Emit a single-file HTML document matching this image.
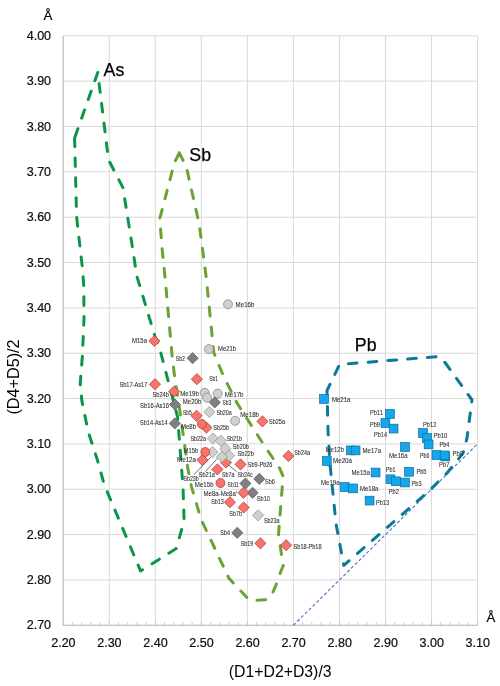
<!DOCTYPE html>
<html><head><meta charset="utf-8"><title>chart</title>
<style>html,body{margin:0;padding:0;background:#fff}body{width:500px;height:686px;overflow:hidden}</style></head>
<body>
<svg width="500" height="686" viewBox="0 0 500 686" style="display:block">
<rect width="500" height="686" fill="#fff"/>
<path d="M63.20 35.8V625.3M109.24 35.8V625.3M155.29 35.8V625.3M201.33 35.8V625.3M247.38 35.8V625.3M293.42 35.8V625.3M339.47 35.8V625.3M385.51 35.8V625.3M431.56 35.8V625.3M477.60 35.8V625.3M63.2 35.80H477.6M63.2 81.15H477.6M63.2 126.49H477.6M63.2 171.84H477.6M63.2 217.18H477.6M63.2 262.53H477.6M63.2 307.88H477.6M63.2 353.22H477.6M63.2 398.57H477.6M63.2 443.92H477.6M63.2 489.26H477.6M63.2 534.61H477.6M63.2 579.95H477.6M63.2 625.30H477.6" stroke="#d9d9d9" stroke-width="1" fill="none"/>
<path d="M63.2 35.8V625.3H477.6" stroke="#bfbfbf" stroke-width="1" fill="none"/>
<path d="M63.20 625.3v-3.2M72.41 625.3v-3.2M81.62 625.3v-3.2M90.83 625.3v-3.2M100.04 625.3v-3.2M109.24 625.3v-3.2M118.45 625.3v-3.2M127.66 625.3v-3.2M136.87 625.3v-3.2M146.08 625.3v-3.2M155.29 625.3v-3.2M164.50 625.3v-3.2M173.71 625.3v-3.2M182.92 625.3v-3.2M192.12 625.3v-3.2M201.33 625.3v-3.2M210.54 625.3v-3.2M219.75 625.3v-3.2M228.96 625.3v-3.2M238.17 625.3v-3.2M247.38 625.3v-3.2M256.59 625.3v-3.2M265.80 625.3v-3.2M275.00 625.3v-3.2M284.21 625.3v-3.2M293.42 625.3v-3.2M302.63 625.3v-3.2M311.84 625.3v-3.2M321.05 625.3v-3.2M330.26 625.3v-3.2M339.47 625.3v-3.2M348.68 625.3v-3.2M357.88 625.3v-3.2M367.09 625.3v-3.2M376.30 625.3v-3.2M385.51 625.3v-3.2M394.72 625.3v-3.2M403.93 625.3v-3.2M413.14 625.3v-3.2M422.35 625.3v-3.2M431.56 625.3v-3.2M440.76 625.3v-3.2M449.97 625.3v-3.2M459.18 625.3v-3.2M468.39 625.3v-3.2M477.60 625.3v-3.2" stroke="#bfbfbf" stroke-width="0.8" fill="none"/>
<path d="M293.4 625.3L477.6 443.9" stroke="#4472c4" stroke-width="1.1" stroke-dasharray="3.2 2.2" fill="none"/>
<g font-family="'Liberation Sans', Arial, sans-serif" font-size="12" fill="#0d0d0d" stroke="#0d0d0d" stroke-width="0.2">
<text x="51.1" y="39.9" text-anchor="end" textLength="24.4" lengthAdjust="spacingAndGlyphs">4.00</text>
<text x="51.1" y="85.2" text-anchor="end" textLength="24.4" lengthAdjust="spacingAndGlyphs">3.90</text>
<text x="51.1" y="130.6" text-anchor="end" textLength="24.4" lengthAdjust="spacingAndGlyphs">3.80</text>
<text x="51.1" y="175.9" text-anchor="end" textLength="24.4" lengthAdjust="spacingAndGlyphs">3.70</text>
<text x="51.1" y="221.3" text-anchor="end" textLength="24.4" lengthAdjust="spacingAndGlyphs">3.60</text>
<text x="51.1" y="266.6" text-anchor="end" textLength="24.4" lengthAdjust="spacingAndGlyphs">3.50</text>
<text x="51.1" y="312.0" text-anchor="end" textLength="24.4" lengthAdjust="spacingAndGlyphs">3.40</text>
<text x="51.1" y="357.3" text-anchor="end" textLength="24.4" lengthAdjust="spacingAndGlyphs">3.30</text>
<text x="51.1" y="402.7" text-anchor="end" textLength="24.4" lengthAdjust="spacingAndGlyphs">3.20</text>
<text x="51.1" y="448.0" text-anchor="end" textLength="24.4" lengthAdjust="spacingAndGlyphs">3.10</text>
<text x="51.1" y="493.4" text-anchor="end" textLength="24.4" lengthAdjust="spacingAndGlyphs">3.00</text>
<text x="51.1" y="538.7" text-anchor="end" textLength="24.4" lengthAdjust="spacingAndGlyphs">2.90</text>
<text x="51.1" y="584.1" text-anchor="end" textLength="24.4" lengthAdjust="spacingAndGlyphs">2.80</text>
<text x="51.1" y="629.4" text-anchor="end" textLength="24.4" lengthAdjust="spacingAndGlyphs">2.70</text>
<text x="63.4" y="646.8" text-anchor="middle" textLength="24.4" lengthAdjust="spacingAndGlyphs">2.20</text>
<text x="109.4" y="646.8" text-anchor="middle" textLength="24.4" lengthAdjust="spacingAndGlyphs">2.30</text>
<text x="155.5" y="646.8" text-anchor="middle" textLength="24.4" lengthAdjust="spacingAndGlyphs">2.40</text>
<text x="201.5" y="646.8" text-anchor="middle" textLength="24.4" lengthAdjust="spacingAndGlyphs">2.50</text>
<text x="247.6" y="646.8" text-anchor="middle" textLength="24.4" lengthAdjust="spacingAndGlyphs">2.60</text>
<text x="293.6" y="646.8" text-anchor="middle" textLength="24.4" lengthAdjust="spacingAndGlyphs">2.70</text>
<text x="339.7" y="646.8" text-anchor="middle" textLength="24.4" lengthAdjust="spacingAndGlyphs">2.80</text>
<text x="385.7" y="646.8" text-anchor="middle" textLength="24.4" lengthAdjust="spacingAndGlyphs">2.90</text>
<text x="431.8" y="646.8" text-anchor="middle" textLength="24.4" lengthAdjust="spacingAndGlyphs">3.00</text>
<text x="477.8" y="646.8" text-anchor="middle" textLength="24.4" lengthAdjust="spacingAndGlyphs">3.10</text>
</g>
<g font-family="'Liberation Sans', Arial, sans-serif" fill="#000">
<text x="48" y="20.3" font-size="13.4" text-anchor="middle" stroke="#000" stroke-width="0.2">Å</text>
<text x="490.9" y="621.9" font-size="13.2" text-anchor="middle" stroke="#000" stroke-width="0.2">Å</text>
<text x="280.2" y="677.4" font-size="15.8" text-anchor="middle">(D1+D2+D3)/3</text>
<text transform="translate(19.0 377) rotate(-90)" font-size="16.2" text-anchor="middle">(D4+D5)/2</text>
<text x="103.6" y="75.9" font-size="17.8" stroke="#000" stroke-width="0.25">As</text>
<text x="189.3" y="161" font-size="17.8" stroke="#000" stroke-width="0.25">Sb</text>
<text x="354.8" y="350.9" font-size="17.8" stroke="#000" stroke-width="0.25">Pb</text>
</g>
<path d="M97.8 72.5L74.6 138M74.6 138L75.6 178L76.6 217L80 247L82.2 266L83.8 286L84 319L82.4 355.6L80.2 383.6L81.8 400.4L88 431L97.4 460L103.4 481.6L108 493.6L140.6 571L176.2 548.6L184.1 521L183 487L177.6 417L160.8 352.8L154.8 336L136.8 276L131.3 240L122.9 187.6L108 158.8L107.4 151L99 83L97.8 72.5" fill="none" stroke="#0a9647" stroke-width="3.0" stroke-dasharray="8.7 11.19" stroke-dashoffset="0" stroke-linecap="round" stroke-linejoin="round"/>
<path d="M179.3 152.8L175.3 160.8L172.4 170.4L159.8 218.5L162 247.6L165 277L172.3 357.6L174.8 378L180.4 414.4L187.8 468.4L191.2 485.6L201 519.2L229 578.4L248.5 599.2L256 600.4L267 599.7L272.4 593.4L276 585L281.4 570L283.2 566L278.5 534.6L282 490.3L283.1 476.3L279.6 468.2L262 442L237 403L223.6 376.4L213.8 352.6L206.2 277.2L199.2 224L187.1 170.4L183.3 160.8L179.3 152.8" fill="none" stroke="#6ba234" stroke-width="3.0" stroke-dasharray="8.7 11.11" stroke-dashoffset="0" stroke-linecap="round" stroke-linejoin="round"/>
<path d="M327 390.6L328 430L329.8 462.4L336 523.6L343.8 565.4L428.8 491.2L446.8 473.2L463 453.4L467 438L472 400L445 362.5L438.5 356.6L408 359L339.6 364.4L327 390.6" fill="none" stroke="#0b7a99" stroke-width="3.0" stroke-dasharray="8.7 11.1" stroke-dashoffset="3.9" stroke-linecap="round" stroke-linejoin="round"/>
<path d="M210.8 457.2L194 474.6M217.4 458.4L205.4 471.6M227 463.8L236.6 471.6" stroke="#404040" stroke-width="0.75" fill="none"/>
<circle cx="228" cy="304.3" r="4.5" fill="#d0d0d0" stroke="#7f7f7f" stroke-width="0.7"/>
<circle cx="208.9" cy="349.1" r="4.5" fill="#d0d0d0" stroke="#7f7f7f" stroke-width="0.7"/>
<circle cx="204.7" cy="392.8" r="4.5" fill="#d0d0d0" stroke="#7f7f7f" stroke-width="0.7"/>
<circle cx="217.7" cy="393.6" r="4.5" fill="#d0d0d0" stroke="#7f7f7f" stroke-width="0.7"/>
<circle cx="207.1" cy="397.6" r="4.5" fill="#d0d0d0" stroke="#7f7f7f" stroke-width="0.7"/>
<circle cx="235.1" cy="420.8" r="4.5" fill="#d0d0d0" stroke="#7f7f7f" stroke-width="0.7"/>
<path d="M192.6 352.59999999999997L198.2 358.2L192.6 363.8L187.0 358.2Z" fill="#7f7f7f" stroke="#595959" stroke-width="0.7"/>
<path d="M214.8 396.79999999999995L220.4 402.4L214.8 408.0L209.20000000000002 402.4Z" fill="#7f7f7f" stroke="#595959" stroke-width="0.7"/>
<path d="M175 399.0L180.6 404.6L175 410.20000000000005L169.4 404.6Z" fill="#7f7f7f" stroke="#595959" stroke-width="0.7"/>
<path d="M174.8 417.79999999999995L180.4 423.4L174.8 429.0L169.20000000000002 423.4Z" fill="#7f7f7f" stroke="#595959" stroke-width="0.7"/>
<path d="M259.3 473.29999999999995L264.90000000000003 478.9L259.3 484.5L253.70000000000002 478.9Z" fill="#7f7f7f" stroke="#595959" stroke-width="0.7"/>
<path d="M245.4 477.9L251.0 483.5L245.4 489.1L239.8 483.5Z" fill="#7f7f7f" stroke="#595959" stroke-width="0.7"/>
<path d="M252.6 487.2L258.2 492.8L252.6 498.40000000000003L247.0 492.8Z" fill="#7f7f7f" stroke="#595959" stroke-width="0.7"/>
<path d="M237.3 527.1999999999999L242.9 532.8L237.3 538.4L231.70000000000002 532.8Z" fill="#7f7f7f" stroke="#595959" stroke-width="0.7"/>
<path d="M154.5 335.4L160.1 341L154.5 346.6L148.9 341Z" fill="#f8736c" stroke="#a33632" stroke-width="0.7"/>
<path d="M155 378.59999999999997L160.6 384.2L155 389.8L149.4 384.2Z" fill="#f8736c" stroke="#a33632" stroke-width="0.7"/>
<path d="M174.2 385.9L179.79999999999998 391.5L174.2 397.1L168.6 391.5Z" fill="#f8736c" stroke="#a33632" stroke-width="0.7"/>
<path d="M196.9 373.59999999999997L202.5 379.2L196.9 384.8L191.3 379.2Z" fill="#f8736c" stroke="#a33632" stroke-width="0.7"/>
<path d="M196.6 410.2L202.2 415.8L196.6 421.40000000000003L191.0 415.8Z" fill="#f8736c" stroke="#a33632" stroke-width="0.7"/>
<path d="M206.4 422.0L212.0 427.6L206.4 433.20000000000005L200.8 427.6Z" fill="#f8736c" stroke="#a33632" stroke-width="0.7"/>
<path d="M202.4 454.4L208.0 460L202.4 465.6L196.8 460Z" fill="#f8736c" stroke="#a33632" stroke-width="0.7"/>
<path d="M226 456.9L231.6 462.5L226 468.1L220.4 462.5Z" fill="#f8736c" stroke="#a33632" stroke-width="0.7"/>
<path d="M217.4 463.79999999999995L223.0 469.4L217.4 475.0L211.8 469.4Z" fill="#f8736c" stroke="#a33632" stroke-width="0.7"/>
<path d="M240.6 458.79999999999995L246.2 464.4L240.6 470.0L235.0 464.4Z" fill="#f8736c" stroke="#a33632" stroke-width="0.7"/>
<path d="M262.4 415.79999999999995L268.0 421.4L262.4 427.0L256.79999999999995 421.4Z" fill="#f8736c" stroke="#a33632" stroke-width="0.7"/>
<path d="M288.4 450.4L294.0 456L288.4 461.6L282.79999999999995 456Z" fill="#f8736c" stroke="#a33632" stroke-width="0.7"/>
<path d="M243.5 487.2L249.1 492.8L243.5 498.40000000000003L237.9 492.8Z" fill="#f8736c" stroke="#a33632" stroke-width="0.7"/>
<path d="M229.9 496.59999999999997L235.5 502.2L229.9 507.8L224.3 502.2Z" fill="#f8736c" stroke="#a33632" stroke-width="0.7"/>
<path d="M243.7 501.9L249.29999999999998 507.5L243.7 513.1L238.1 507.5Z" fill="#f8736c" stroke="#a33632" stroke-width="0.7"/>
<path d="M260.4 537.6999999999999L266.0 543.3L260.4 548.9L254.79999999999998 543.3Z" fill="#f8736c" stroke="#a33632" stroke-width="0.7"/>
<path d="M286.1 539.6L291.70000000000005 545.2L286.1 550.8000000000001L280.5 545.2Z" fill="#f8736c" stroke="#a33632" stroke-width="0.7"/>
<path d="M209.3 406.4L214.9 412L209.3 417.6L203.70000000000002 412Z" fill="#d0d0d0" stroke="#8c8c8c" stroke-width="0.7"/>
<path d="M212.8 432.9L218.4 438.5L212.8 444.1L207.20000000000002 438.5Z" fill="#d0d0d0" stroke="#8c8c8c" stroke-width="0.7"/>
<path d="M220.9 435.2L226.5 440.8L220.9 446.40000000000003L215.3 440.8Z" fill="#d0d0d0" stroke="#8c8c8c" stroke-width="0.7"/>
<path d="M225.3 443.09999999999997L230.9 448.7L225.3 454.3L219.70000000000002 448.7Z" fill="#d0d0d0" stroke="#8c8c8c" stroke-width="0.7"/>
<path d="M212.5 446.4L218.1 452L212.5 457.6L206.9 452Z" fill="#d0d0d0" stroke="#8c8c8c" stroke-width="0.7"/>
<path d="M229.1 450.0L234.7 455.6L229.1 461.20000000000005L223.5 455.6Z" fill="#d0d0d0" stroke="#8c8c8c" stroke-width="0.7"/>
<path d="M221.9 451.2L227.5 456.8L221.9 462.40000000000003L216.3 456.8Z" fill="#d0d0d0" stroke="#8c8c8c" stroke-width="0.7"/>
<path d="M258.1 509.69999999999993L263.70000000000005 515.3L258.1 520.9L252.50000000000003 515.3Z" fill="#d0d0d0" stroke="#8c8c8c" stroke-width="0.7"/>
<circle cx="201.8" cy="424" r="4.5" fill="#f8736c" stroke="#a33632" stroke-width="0.7"/>
<circle cx="205.3" cy="452" r="4.5" fill="#f8736c" stroke="#a33632" stroke-width="0.7"/>
<circle cx="220.5" cy="483" r="4.5" fill="#f8736c" stroke="#a33632" stroke-width="0.7"/>
<rect x="319.6" y="394.6" width="8.8" height="8.8" fill="#16a6ec" stroke="#0b6f9e" stroke-width="0.7"/>
<rect x="385.6" y="409.6" width="8.8" height="8.8" fill="#16a6ec" stroke="#0b6f9e" stroke-width="0.7"/>
<rect x="381.0" y="418.6" width="8.8" height="8.8" fill="#16a6ec" stroke="#0b6f9e" stroke-width="0.7"/>
<rect x="389.2" y="424.2" width="8.8" height="8.8" fill="#16a6ec" stroke="#0b6f9e" stroke-width="0.7"/>
<rect x="346.6" y="446.0" width="8.8" height="8.8" fill="#16a6ec" stroke="#0b6f9e" stroke-width="0.7"/>
<rect x="351.2" y="446.0" width="8.8" height="8.8" fill="#16a6ec" stroke="#0b6f9e" stroke-width="0.7"/>
<rect x="322.4" y="456.6" width="8.8" height="8.8" fill="#16a6ec" stroke="#0b6f9e" stroke-width="0.7"/>
<rect x="371.2" y="468.1" width="8.8" height="8.8" fill="#16a6ec" stroke="#0b6f9e" stroke-width="0.7"/>
<rect x="340.2" y="482.6" width="8.8" height="8.8" fill="#16a6ec" stroke="#0b6f9e" stroke-width="0.7"/>
<rect x="348.6" y="484.0" width="8.8" height="8.8" fill="#16a6ec" stroke="#0b6f9e" stroke-width="0.7"/>
<rect x="365.2" y="496.2" width="8.8" height="8.8" fill="#16a6ec" stroke="#0b6f9e" stroke-width="0.7"/>
<rect x="386.1" y="474.9" width="8.8" height="8.8" fill="#16a6ec" stroke="#0b6f9e" stroke-width="0.7"/>
<rect x="391.6" y="476.9" width="8.8" height="8.8" fill="#16a6ec" stroke="#0b6f9e" stroke-width="0.7"/>
<rect x="400.6" y="478.1" width="8.8" height="8.8" fill="#16a6ec" stroke="#0b6f9e" stroke-width="0.7"/>
<rect x="404.6" y="467.4" width="8.8" height="8.8" fill="#16a6ec" stroke="#0b6f9e" stroke-width="0.7"/>
<rect x="400.6" y="442.6" width="8.8" height="8.8" fill="#16a6ec" stroke="#0b6f9e" stroke-width="0.7"/>
<rect x="418.6" y="428.6" width="8.8" height="8.8" fill="#16a6ec" stroke="#0b6f9e" stroke-width="0.7"/>
<rect x="422.6" y="433.6" width="8.8" height="8.8" fill="#16a6ec" stroke="#0b6f9e" stroke-width="0.7"/>
<rect x="424.2" y="440.0" width="8.8" height="8.8" fill="#16a6ec" stroke="#0b6f9e" stroke-width="0.7"/>
<rect x="432.0" y="450.6" width="8.8" height="8.8" fill="#16a6ec" stroke="#0b6f9e" stroke-width="0.7"/>
<rect x="440.9" y="452.1" width="8.8" height="8.8" fill="#16a6ec" stroke="#0b6f9e" stroke-width="0.7"/>
<rect x="440.2" y="451.0" width="8.8" height="8.8" fill="#16a6ec" stroke="#0b6f9e" stroke-width="0.7"/>
<g font-family="'Liberation Sans', Arial, sans-serif" font-size="6.6" fill="#333" stroke="#333" stroke-width="0.1" text-anchor="middle">
<text x="139.5" y="342.9" textLength="15.0" lengthAdjust="spacingAndGlyphs">M15a</text>
<text x="180.4" y="360.6" textLength="9.2" lengthAdjust="spacingAndGlyphs">Sb2</text>
<text x="133.4" y="386.6" textLength="28.0" lengthAdjust="spacingAndGlyphs">Sb17-As17</text>
<text x="160.7" y="396.6" textLength="16.6" lengthAdjust="spacingAndGlyphs">Sb24b</text>
<text x="189.5" y="396.4" textLength="18.6" lengthAdjust="spacingAndGlyphs">Me19b</text>
<text x="154.5" y="407.9" textLength="29.0" lengthAdjust="spacingAndGlyphs">Sb16-As16</text>
<text x="192.1" y="404.4" textLength="18.6" lengthAdjust="spacingAndGlyphs">Me20b</text>
<text x="187.4" y="414.9" textLength="8.9" lengthAdjust="spacingAndGlyphs">Sb5</text>
<text x="153.8" y="425.2" textLength="27.5" lengthAdjust="spacingAndGlyphs">Sb14-As14</text>
<text x="188.5" y="429.2" textLength="15.0" lengthAdjust="spacingAndGlyphs">Me8b</text>
<text x="198.2" y="440.9" textLength="15.6" lengthAdjust="spacingAndGlyphs">Sb22a</text>
<text x="190.9" y="453.2" textLength="14.6" lengthAdjust="spacingAndGlyphs">M15b</text>
<text x="186.5" y="461.9" textLength="19.0" lengthAdjust="spacingAndGlyphs">Me12a</text>
<text x="191.1" y="481.4" textLength="15.1" lengthAdjust="spacingAndGlyphs">Sb23b</text>
<text x="204.2" y="487.1" textLength="18.7" lengthAdjust="spacingAndGlyphs">Me15b</text>
<text x="227.0" y="351.1" textLength="18.0" lengthAdjust="spacingAndGlyphs">Me21b</text>
<text x="213.6" y="381.4" textLength="8.8" lengthAdjust="spacingAndGlyphs">Sb1</text>
<text x="234.1" y="396.6" textLength="18.9" lengthAdjust="spacingAndGlyphs">Me17b</text>
<text x="226.8" y="405.4" textLength="8.6" lengthAdjust="spacingAndGlyphs">Sb3</text>
<text x="224.0" y="415.1" textLength="15.2" lengthAdjust="spacingAndGlyphs">Sb20a</text>
<text x="249.6" y="416.6" textLength="18.8" lengthAdjust="spacingAndGlyphs">Me18b</text>
<text x="221.2" y="430.1" textLength="16.0" lengthAdjust="spacingAndGlyphs">Sb25b</text>
<text x="234.2" y="440.9" textLength="15.6" lengthAdjust="spacingAndGlyphs">Sb21b</text>
<text x="240.9" y="449.1" textLength="16.1" lengthAdjust="spacingAndGlyphs">Sb20b</text>
<text x="245.7" y="456.1" textLength="16.5" lengthAdjust="spacingAndGlyphs">Sb22b</text>
<text x="260.1" y="467.1" textLength="24.5" lengthAdjust="spacingAndGlyphs">Sb9-Pb26</text>
<text x="302.1" y="455.2" textLength="15.7" lengthAdjust="spacingAndGlyphs">Sb24a</text>
<text x="206.8" y="477.1" textLength="16.1" lengthAdjust="spacingAndGlyphs">Sb21a</text>
<text x="228.3" y="476.6" textLength="12.7" lengthAdjust="spacingAndGlyphs">Sb7a</text>
<text x="245.1" y="476.6" textLength="15.1" lengthAdjust="spacingAndGlyphs">Sb24c</text>
<text x="233.2" y="487.4" textLength="11.3" lengthAdjust="spacingAndGlyphs">Sb11</text>
<text x="270.0" y="484.1" textLength="9.8" lengthAdjust="spacingAndGlyphs">Sb6</text>
<text x="220.3" y="495.9" textLength="33.6" lengthAdjust="spacingAndGlyphs">Me8a-Me8a’</text>
<text x="263.4" y="501.4" textLength="13.2" lengthAdjust="spacingAndGlyphs">Sb10</text>
<text x="217.4" y="504.2" textLength="12.5" lengthAdjust="spacingAndGlyphs">Sb13</text>
<text x="235.6" y="515.8" textLength="12.7" lengthAdjust="spacingAndGlyphs">Sb7b</text>
<text x="271.8" y="523.0" textLength="15.6" lengthAdjust="spacingAndGlyphs">Sb23a</text>
<text x="225.1" y="535.0" textLength="9.6" lengthAdjust="spacingAndGlyphs">Sb4</text>
<text x="246.9" y="546.2" textLength="12.5" lengthAdjust="spacingAndGlyphs">Sb19</text>
<text x="307.6" y="548.6" textLength="28.0" lengthAdjust="spacingAndGlyphs">Sb18-Pb18</text>
<text x="277.0" y="423.6" textLength="16.0" lengthAdjust="spacingAndGlyphs">Sb25a</text>
<text x="245.0" y="306.6" textLength="18.8" lengthAdjust="spacingAndGlyphs">Me16b</text>
<text x="341.2" y="401.9" textLength="18.4" lengthAdjust="spacingAndGlyphs">Me21a</text>
<text x="376.5" y="415.2" textLength="13.0" lengthAdjust="spacingAndGlyphs">Pb11</text>
<text x="375.0" y="426.6" textLength="10.0" lengthAdjust="spacingAndGlyphs">Pb9</text>
<text x="380.5" y="437.2" textLength="13.0" lengthAdjust="spacingAndGlyphs">Pb14</text>
<text x="334.8" y="452.2" textLength="18.4" lengthAdjust="spacingAndGlyphs">Me12b</text>
<text x="371.8" y="452.6" textLength="18.4" lengthAdjust="spacingAndGlyphs">Me17a</text>
<text x="342.5" y="463.2" textLength="19.0" lengthAdjust="spacingAndGlyphs">Me20a</text>
<text x="360.8" y="475.2" textLength="18.4" lengthAdjust="spacingAndGlyphs">Me15a</text>
<text x="390.7" y="472.1" textLength="9.8" lengthAdjust="spacingAndGlyphs">Pb1</text>
<text x="398.3" y="458.2" textLength="18.6" lengthAdjust="spacingAndGlyphs">Me16a</text>
<text x="330.3" y="484.6" textLength="18.6" lengthAdjust="spacingAndGlyphs">Me19a</text>
<text x="369.2" y="491.2" textLength="18.4" lengthAdjust="spacingAndGlyphs">Me18a</text>
<text x="382.5" y="504.9" textLength="13.0" lengthAdjust="spacingAndGlyphs">Pb13</text>
<text x="393.8" y="493.6" textLength="10.0" lengthAdjust="spacingAndGlyphs">Pb2</text>
<text x="429.7" y="426.9" textLength="13.4" lengthAdjust="spacingAndGlyphs">Pb12</text>
<text x="440.5" y="437.9" textLength="13.8" lengthAdjust="spacingAndGlyphs">Pb10</text>
<text x="444.5" y="446.6" textLength="9.8" lengthAdjust="spacingAndGlyphs">Pb4</text>
<text x="424.7" y="457.6" textLength="9.4" lengthAdjust="spacingAndGlyphs">Pb6</text>
<text x="457.8" y="455.9" textLength="10.4" lengthAdjust="spacingAndGlyphs">Pb8</text>
<text x="444.2" y="467.2" textLength="10.4" lengthAdjust="spacingAndGlyphs">Pb7</text>
<text x="421.4" y="473.9" textLength="10.0" lengthAdjust="spacingAndGlyphs">Pb5</text>
<text x="416.6" y="485.9" textLength="10.0" lengthAdjust="spacingAndGlyphs">Pb3</text>
</g>
</svg>
</body></html>
